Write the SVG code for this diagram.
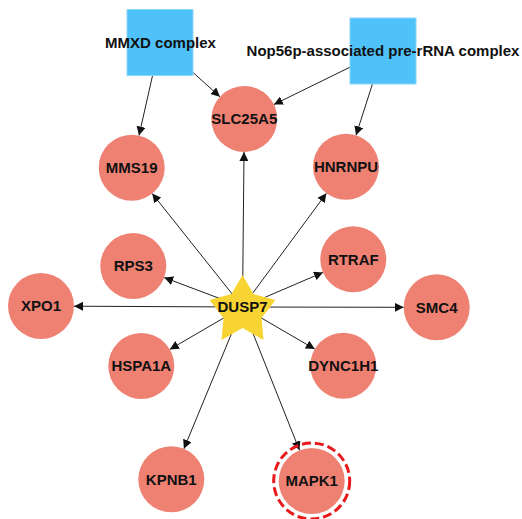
<svg xmlns="http://www.w3.org/2000/svg" width="522" height="519" viewBox="0 0 522 519">
<defs>
<style>
.edge{stroke:#222;stroke-width:1;fill:none;marker-end:url(#arr)}
.gene{fill:#EF8173}
.cplx{fill:#4FC2F9;stroke:#8AD6FA;stroke-width:1}
.lbl{font-family:"Liberation Sans",Arial,sans-serif;font-weight:bold;font-size:15px;fill:#111;text-anchor:middle}
</style>
<marker id="arr" viewBox="0 0 10 10" refX="10" refY="5" markerWidth="9" markerHeight="9" markerUnits="userSpaceOnUse" orient="auto">
<path d="M0,0 L10,5 L0,10 z" fill="#111"/>
</marker>
</defs>
<rect width="522" height="519" fill="#fff"/>
<g id="edges">
<line class="edge" x1="242.5" y1="307" x2="244" y2="152"/>
<line class="edge" x1="242.5" y1="307" x2="152.2" y2="193.5"/>
<line class="edge" x1="242.5" y1="307" x2="326.4" y2="193.3"/>
<line class="edge" x1="242.5" y1="307" x2="164.2" y2="277.6"/>
<line class="edge" x1="242.5" y1="307" x2="323" y2="272.4"/>
<line class="edge" x1="242.5" y1="307" x2="74" y2="306.2"/>
<line class="edge" x1="242.5" y1="307" x2="403.7" y2="307.3"/>
<line class="edge" x1="242.5" y1="307" x2="169.8" y2="349.4"/>
<line class="edge" x1="242.5" y1="307" x2="314.8" y2="349.1"/>
<line class="edge" x1="242.5" y1="307" x2="183.9" y2="448.8"/>
<line class="edge" x1="242.5" y1="307" x2="299.5" y2="450.3"/>
<line class="edge" x1="160" y1="42.5" x2="139" y2="135.5"/>
<line class="edge" x1="160" y1="42.5" x2="219.9" y2="96.8"/>
<line class="edge" x1="383" y1="51" x2="273.9" y2="104.5"/>
<line class="edge" x1="383" y1="51" x2="356" y2="135.3"/>
</g>
<g id="MMXD_complex"><rect class="cplx" x="127" y="9.5" width="66" height="66"/></g>
<g id="Nop56p_complex"><rect class="cplx" x="350" y="18" width="66" height="66"/></g>
<g id="SLC25A5"><circle class="gene" cx="244.3" cy="119" r="33"/><text class="lbl" x="244.3" y="124.3">SLC25A5</text></g>
<g id="MMS19"><circle class="gene" cx="131.7" cy="167.7" r="33"/><text class="lbl" x="131.7" y="173">MMS19</text></g>
<g id="HNRNPU"><circle class="gene" cx="346" cy="166.7" r="33"/><text class="lbl" x="346" y="172">HNRNPU</text></g>
<g id="RPS3"><circle class="gene" cx="133.3" cy="266" r="33"/><text class="lbl" x="133.3" y="271.3">RPS3</text></g>
<g id="RTRAF"><circle class="gene" cx="353.3" cy="259.3" r="33"/><text class="lbl" x="353.3" y="264.6">RTRAF</text></g>
<g id="XPO1"><circle class="gene" cx="41" cy="306" r="33"/><text class="lbl" x="41" y="311.3">XPO1</text></g>
<g id="SMC4"><circle class="gene" cx="436.7" cy="307.3" r="33"/><text class="lbl" x="436.7" y="312.6">SMC4</text></g>
<g id="HSPA1A"><circle class="gene" cx="141.3" cy="366" r="33"/><text class="lbl" x="141.3" y="371.3">HSPA1A</text></g>
<g id="DYNC1H1"><circle class="gene" cx="343.3" cy="365.7" r="33"/><text class="lbl" x="343.3" y="371">DYNC1H1</text></g>
<g id="KPNB1"><circle class="gene" cx="171.3" cy="479.3" r="33"/><text class="lbl" x="171.3" y="484.6">KPNB1</text></g>
<g id="MAPK1"><circle cx="311.7" cy="481" r="38" fill="none" stroke="#E8191A" stroke-width="3" stroke-dasharray="9,4"/><circle class="gene" cx="311.7" cy="481" r="33"/><text class="lbl" x="311.7" y="486.3">MAPK1</text></g>
<g id="DUSP7"><polygon points="242.5,275 253.5,294 275.5,300 261.5,318 263.5,340 242.5,328 221.5,340 223.5,318 209.5,300 231.5,294" fill="#F8D433"/><text class="lbl" x="242.5" y="312">DUSP7</text></g>
<g id="complex_labels">
<text class="lbl" x="160.5" y="47.5">MMXD complex</text>
<text class="lbl" x="383" y="56">Nop56p-associated pre-rRNA complex</text>
</g>
</svg>
